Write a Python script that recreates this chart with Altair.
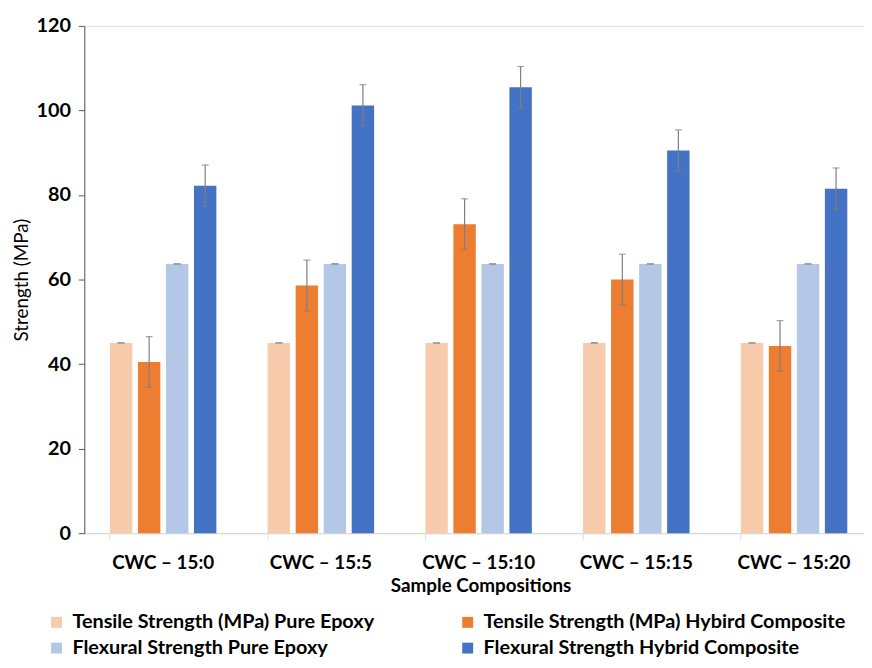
import altair as alt
import pandas as pd

categories = ["CWC – 15:0", "CWC – 15:5", "CWC – 15:10", "CWC – 15:15", "CWC – 15:20"]
series_names = [
    "Tensile Strength (MPa) Pure Epoxy",
    "Tensile Strength (MPa) Hybird Composite",
    "Flexural Strength Pure Epoxy",
    "Flexural Strength Hybrid Composite",
]
tensile_pure = [45.0, 45.0, 45.0, 45.0, 45.0]
tensile_pure_err = [0.0, 0.0, 0.0, 0.0, 0.0]
tensile_hybrid = [40.5, 58.6, 73.1, 60.0, 44.3]
tensile_hybrid_err = [6.0, 6.0, 6.0, 6.0, 6.0]
flexural_pure = [63.7, 63.7, 63.7, 63.7, 63.7]
flexural_pure_err = [0.0, 0.0, 0.0, 0.0, 0.0]
flexural_hybrid = [82.2, 101.2, 105.5, 90.5, 81.5]
flexural_hybrid_err = [4.9, 4.9, 4.9, 4.9, 4.9]
colors = ["#F8CBAD", "#ED7D31", "#B4C7E7", "#4472C4"]

rows = []
for vals, errs, name in zip(
    [tensile_pure, tensile_hybrid, flexural_pure, flexural_hybrid],
    [tensile_pure_err, tensile_hybrid_err, flexural_pure_err, flexural_hybrid_err],
    series_names,
):
    for c, v, e in zip(categories, vals, errs):
        rows.append({"category": c, "series": name, "value": v, "lo": v - e, "hi": v + e})
df = pd.DataFrame(rows)

FONT = "Lato"

x_enc = alt.X(
    "category:N",
    sort=categories,
    scale=alt.Scale(paddingInner=0.325, paddingOuter=0.1625, range=[0, 796]),
    axis=alt.Axis(
        title="Sample Compositions",
        titleX=400,
        labelAngle=0,
        labelFont=FONT,
        labelFontWeight="bold",
        labelFontSize=19,
        labelColor="#000000",
        labelPadding=15,
        titleFont=FONT,
        titleFontWeight="bold",
        titleFontSize=19,
        titleColor="#000000",
        titlePadding=4,
        domainColor="#D9D9D9",
        tickColor="#D9D9D9",
        tickSize=6,
        bandPosition=0,
    ),
)
xoff = alt.XOffset("series:N", sort=series_names, scale=alt.Scale(paddingInner=0.2))
y_scale = alt.Scale(domain=[0, 120])

bars = alt.Chart(df).mark_bar().encode(
    x=x_enc,
    xOffset=xoff,
    y=alt.Y(
        "value:Q",
        scale=y_scale,
        axis=alt.Axis(
            title="Strength (MPa)",
            values=[0, 20, 40, 60, 80, 100, 120],
            grid=False,
            labelFont=FONT,
            labelFontWeight="bold",
            labelFontSize=20,
            labelColor="#000000",
            labelPadding=8,
            titleFont=FONT,
            titleFontWeight="normal",
            titleFontSize=19,
            titleColor="#000000",
            titlePadding=5,
            domainColor="#595959",
            tickColor="#595959",
            tickSize=6,
        ),
    ),
    color=alt.Color(
        "series:N",
        sort=series_names,
        scale=alt.Scale(domain=series_names, range=colors),
        legend=alt.Legend(
            title=None,
            orient="none",
            direction="horizontal",
            legendX=-38,
            legendY=592,
            columns=2,
            columnPadding=84,
            rowPadding=6,
            symbolType="square",
            symbolSize=121,
            symbolStrokeWidth=0,
            labelOffset=6,
            labelFont=FONT,
            labelFontWeight="bold",
            labelFontSize=20,
            labelColor="#000000",
            labelLimit=450,
        ),
    ),
)

err_rules = alt.Chart(df).mark_rule(color="#7F7F7F", strokeWidth=1.2).encode(
    x=alt.X("category:N", sort=categories),
    xOffset=xoff,
    y=alt.Y("lo:Q", scale=y_scale),
    y2="hi:Q",
)
caps_hi = alt.Chart(df).mark_tick(color="#7F7F7F", thickness=1.2, size=7).encode(
    x=alt.X("category:N", sort=categories),
    xOffset=xoff,
    y=alt.Y("hi:Q", scale=y_scale),
)
caps_lo = alt.Chart(df).mark_tick(color="#7F7F7F", thickness=1.2, size=7).encode(
    x=alt.X("category:N", sort=categories),
    xOffset=xoff,
    y=alt.Y("lo:Q", scale=y_scale),
)

chart = (
    alt.layer(bars, err_rules, caps_hi, caps_lo)
    .properties(
        width=787,
        height=512,
        autosize=alt.AutoSizeParams(type="none"),
        padding={"left": 77, "top": 15, "right": 0, "bottom": 133},
    )
    .configure_view(stroke=None)
    .configure(background="white")
)

chart.save("out.html", embed_options={"renderer": "svg", "actions": False})
